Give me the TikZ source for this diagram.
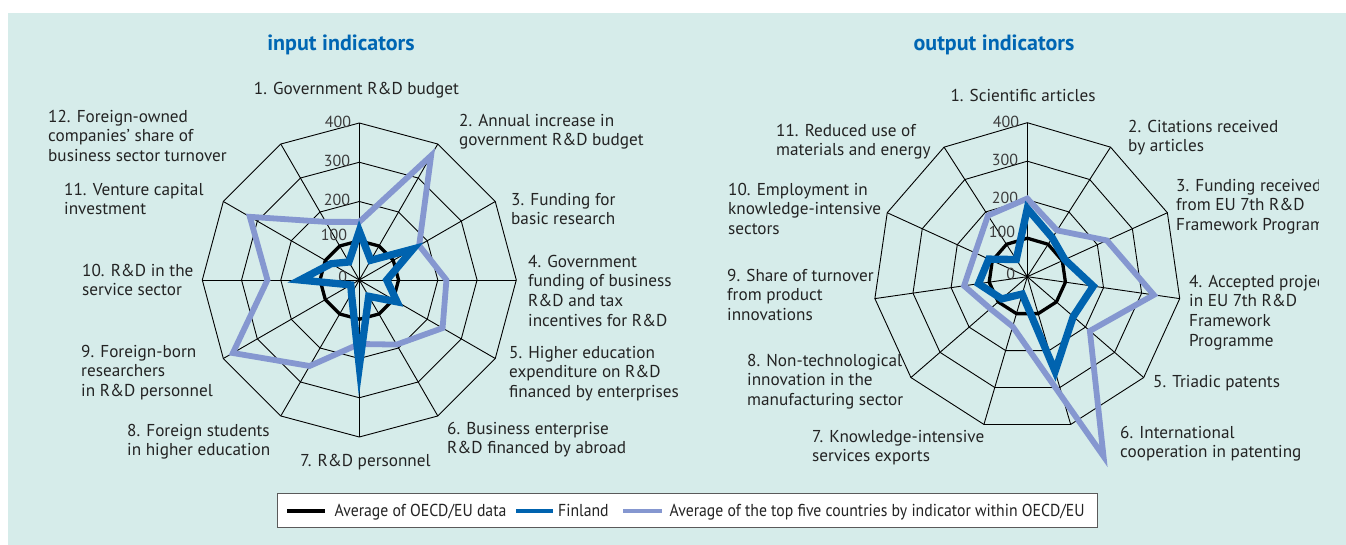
\documentclass[tikz,border=0pt]{standalone}
\usepackage{fontspec}
\setmainfont{PT Sans}
\newfontfamily\legfamily[FakeStretch=0.91]{PT Sans}
\usetikzlibrary{calc}
\definecolor{panel}{RGB}{214,236,234}
\definecolor{ttlblue}{RGB}{0,102,179}
\definecolor{findark}{RGB}{0,99,175}
\definecolor{toplight}{RGB}{133,151,208}
\definecolor{txt}{RGB}{35,35,35}
\definecolor{sclgray}{RGB}{60,60,60}
\definecolor{legbd}{RGB}{90,90,90}
\newcommand\lblfont{\fontsize{17.2}{19.7}\selectfont}
\newcommand\sclfont{\fontsize{16}{18}\selectfont}
\newcommand\ttlfont{\bfseries\fontsize{22}{25}\selectfont}
\newcommand\legfnt{\legfamily\fontsize{17.3}{19}\selectfont}
\def\lst{30}
\def\ls{0.3925}
\def\rst{32.72727}
\def\rs{0.385}
\begin{document}
\begin{tikzpicture}[x=1pt,y=1pt,
  gridline/.style={line width=0.9pt, black},
  avgline/.style={line width=3.3pt, black, line join=miter},
  finline/.style={line width=7.3pt, findark, line join=miter},
  topline/.style={line width=5.8pt, toplight, line join=miter},
  lbl/.style={anchor=north west, inner sep=0pt, align=left, font=\lblfont, text=txt},
  lblc/.style={anchor=north, inner sep=0pt, align=center, font=\lblfont, text=txt},
  scl/.style={anchor=east, inner sep=0pt, font=\sclfont, text=sclgray},
  ttl/.style={font=\ttlfont, text=ttlblue, inner sep=0pt},
  leg/.style={anchor=base west, inner sep=0pt, font=\legfnt, text=txt},
  swatch/.style={line width=4.5pt}]
\useasboundingbox (0,0) rectangle (1346,-545);
\fill[white] (0,0) rectangle (1346,-545);
\fill[panel] (8,-13) rectangle (1346,-545);

% titles
\node[ttl] (tin) at (341,-45) {input indicators};
\node[ttl] (tout) at (994,-45) {output indicators};

% ---------------- left radar ----------------
\begin{scope}[shift={(359.3,-280)}]
  \foreach \k in {1,2,3,4} {
    \draw[gridline] (90:{100*\k*\ls}) \foreach \j in {1,...,11} { -- ({90-\lst*\j}:{100*\k*\ls}) } -- cycle;
  }
  \foreach \j in {0,...,11} \draw[gridline] (0,0) -- ({90-\lst*\j}:{400*\ls});
  \foreach \v/\dy/\dx in {0/3/-12,100/6/-12,200/1.5/-9,300/1/-9,400/1/-8}
    \node[scl] (sl\v) at (\dx,{\v*\ls+\dy}) {\v};
  \draw[avgline] (90:{100*\ls}) \foreach \j in {1,...,11} { -- ({90-\lst*\j}:{100*\ls}) } -- cycle;
  \draw[topline] (90:{148*\ls}) \foreach \v [count=\i from 2] in {366,176,222,245,190,163,253,372,234,322,171} { -- ({90-\lst*(\i-1)}:{\v*\ls}) } -- cycle;
  \draw[finline] (90:{125*\ls}) \foreach \v [count=\i from 2] in {58,158,70,111,48,220,40,25,151,83,53} { -- ({90-\lst*(\i-1)}:{\v*\ls}) } -- cycle;
\end{scope}

% left labels
\node[lblc] (l1) at (356.5,{-94+13.79}) {\strut 1. Government R\&D budget};
\node[lbl] (l2) at (459,{-126+13.79}) {\strut 2. Annual increase in\\government R\&D budget};
\node[lbl] (l3) at (511,{-205+13.79}) {\strut 3. Funding for\\basic research};
\node[lbl] (l4) at (528,{-267+13.79}) {\strut 4. Government\\funding of business\\R\&D and tax\\incentives for R\&D};
\node[lbl] (l5) at (509,{-358+13.79}) {\strut 5. Higher education\\expenditure on R\&D\\financed by enterprises};
\node[lbl] (l6) at (447,{-434+13.79}) {\strut 6. Business enterprise\\R\&D financed by abroad};
\node[lblc] (l7) at (365.5,{-466+13.79}) {\strut 7. R\&D personnel};
\node[lbl] (l8) at (127,{-436+13.79}) {\strut 8. Foreign students\\in higher education};
\node[lbl] (l9) at (81,{-357+13.79}) {\strut 9. Foreign-born\\researchers\\in R\&D personnel};
\node[lbl] (l10) at (82,{-276+13.79}) {\strut 10. R\&D in the\\service sector};
\node[lbl] (l11) at (64,{-195+13.79}) {\strut 11. Venture capital\\investment};
\node[lbl] (l12) at (48,{-122+13.79}) {\strut 12. Foreign-owned\\companies' share of\\business sector turnover};

% ---------------- right radar ----------------
\begin{scope}[shift={(1027.3,-276.7)}]
  \foreach \k in {1,2,3,4} {
    \draw[gridline] (90:{100*\k*\rs}) \foreach \j in {1,...,10} { -- ({90-\rst*\j}:{100*\k*\rs}) } -- cycle;
  }
  \foreach \j in {0,...,10} \draw[gridline] (0,0) -- ({90-\rst*\j}:{400*\rs});
  \foreach \v/\dy/\dx in {0/3/-12,100/6/-12,200/1.5/-9,300/1/-9,400/1/-8}
    \node[scl] (sr\v) at (\dx,{\v*\rs+\dy}) {\v};
  \draw[avgline] (90:{100*\rs}) \foreach \j in {1,...,10} { -- ({90-\rst*\j}:{100*\rs}) } -- cycle;
  \draw[topline] (90:{203*\rs}) -- ({90-\rst}:{143*\rs}) -- ({90-2*\rst}:{227*\rs})
    -- ({90-3*\rst}:{332*\rs}) -- ({90-4*\rst}:{215*\rs}) -- (-67:195)
    -- ({90-6*\rst}:{135*\rs}) -- ({90-7*\rst}:{127*\rs}) -- ({90-8*\rst}:{166*\rs})
    -- ({90-9*\rst}:{149*\rs}) -- ({90-10*\rst}:{189*\rs}) -- cycle;
  \draw[finline] (90:{177*\rs}) \foreach \v [count=\i from 2] in {120,107,173,158,256,47,88,128,110,53} { -- ({90-\rst*(\i-1)}:{\v*\rs}) } -- cycle;
\end{scope}

% right labels
\begin{scope}
\clip (0,0) rectangle (1318,-545);
\node[lblc] (r1) at (1023,{-101+13.79}) {\strut 1. Scientific articles};
\node[lbl] (r2) at (1128,{-132+13.79}) {\strut 2. Citations received\\by articles};
\node[lbl] (r3) at (1176,{-191+13.79}) {\strut 3. Funding received\\from EU 7th R\&D\\Framework Programme};
\node[lbl] (r4) at (1189,{-287+13.79}) {\strut 4. Accepted projects\\in EU 7th R\&D\\Framework\\Programme};
\node[lbl] (r5) at (1153,{-387+13.79}) {\strut 5. Triadic patents};
\node[lbl] (r6) at (1120,{-438+13.79}) {\strut 6. International\\cooperation in patenting};
\node[lbl] (r7) at (812,{-442+13.79}) {\strut 7. Knowledge-intensive\\services exports};
\node[lbl] (r8) at (747,{-366+13.79}) {\strut 8. Non-technological\\innovation in the\\manufacturing sector};
\node[lbl] (r9) at (727,{-281+13.79}) {\strut 9. Share of turnover\\from product\\innovations};
\node[lbl] (r10) at (728,{-195+13.79}) {\strut 10. Employment in\\knowledge-intensive\\sectors};
\node[lbl] (r11) at (776,{-136+13.79}) {\strut 11. Reduced use of\\materials and energy};
\end{scope}

% legend
\node[draw=legbd, line width=0.8pt, fill=white, minimum width=820, minimum height=34, inner sep=0pt, anchor=north west] (legbox) at (277,-493) {};
\coordinate (s1a) at (287,-511); \coordinate (s1b) at (325,-511);
\coordinate (s2a) at (516,-511); \coordinate (s2b) at (553,-511);
\coordinate (s3a) at (623,-511); \coordinate (s3b) at (662,-511);
\draw[swatch, black] (s1a) -- (s1b);
\draw[swatch, findark] (s2a) -- (s2b);
\draw[swatch, toplight] (s3a) -- (s3b);
\node[leg] (lg1) at (334.5,-516.5) {Average of OECD/EU data};
\node[leg] (lg2) at (558,-516.5) {Finland};
\node[leg] (lg3) at (669.5,-516.5) {Average of the top five countries by indicator within OECD/EU};
\end{tikzpicture}
\end{document}
